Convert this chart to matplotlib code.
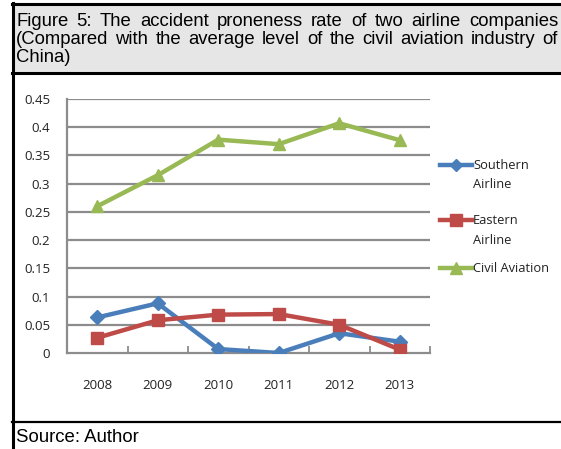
import matplotlib.pyplot as plt
from matplotlib.patches import Rectangle
from matplotlib.lines import Line2D

years = ["2008", "2009", "2010", "2011", "2012", "2013"]
southern = [0.063, 0.088, 0.007, 0.0, 0.035, 0.02]
eastern = [0.027, 0.058, 0.068, 0.069, 0.05, 0.006]
civil = [0.26, 0.315, 0.378, 0.37, 0.407, 0.377]
y_ticks = [0, 0.05, 0.1, 0.15, 0.2, 0.25, 0.3, 0.35, 0.4, 0.45]
y_labels = ["0", "0.05", "0.1", "0.15", "0.2", "0.25", "0.3", "0.35", "0.4", "0.45"]
series_names = ["Southern\nAirline", "Eastern\nAirline", "Civil Aviation"]
title_lines = ["Figure 5: The accident proneness rate of two airline companies",
               "(Compared with the average level of the civil aviation industry of",
               "China)"]

W, H = 561, 449
fig = plt.figure(figsize=(W / 100, H / 100), dpi=100)


def fx(px):
    return px / W


def fy(py):
    return 1 - py / H


chart_font = ["Open Sans", "DejaVu Sans"]

# header box + frame lines
fig.patches.append(Rectangle((fx(13), fy(73)), fx(W - 13), (73 - 3) / H,
                             transform=fig.transFigure, facecolor="#e6e6e6",
                             edgecolor="none", zorder=0))
black = dict(color="black", transform=fig.transFigure)
fig.add_artist(Line2D([fx(13), fx(13)], [fy(3), fy(449)], lw=2.2, **black))
fig.add_artist(Line2D([fx(12), 1], [fy(3.5), fy(3.5)], lw=2.2, **black))
fig.add_artist(Line2D([fx(12), 1], [fy(73), fy(73)], lw=2.2, **black))
fig.add_artist(Line2D([fx(12), 1], [fy(422), fy(422)], lw=1.6, **black))

# justified title: spread the words of the first two lines across the box
renderer = fig.canvas.get_renderer()
left, right = 16, 558
for i, (line, yy) in enumerate(zip(title_lines, [22, 39, 57])):
    words = line.split(" ")
    if i == len(title_lines) - 1:
        fig.text(fx(left), fy(yy), line, ha="left", va="center",
                 fontsize=13.3, family="Liberation Sans")
        continue
    objs = [fig.text(0, fy(yy), w, ha="left", va="center", fontsize=13.3,
                     family="Liberation Sans") for w in words]
    widths = [o.get_window_extent(renderer).width for o in objs]
    gap = (right - left - sum(widths)) / (len(words) - 1)
    pos = left
    for o, w in zip(objs, widths):
        o.set_x(fx(pos))
        pos += w + gap

fig.text(fx(16), fy(437), "Source: Author", ha="left", va="center",
         fontsize=13.4, family="Liberation Sans")

# chart
ax = fig.add_axes([fx(67), fy(353), fx(430 - 67), (353 - 99) / H])
x = list(range(len(years)))
grid_c = "#8c8c8c"
for t in y_ticks[1:]:
    ax.axhline(t, color=grid_c, lw=1.6, zorder=1)

colors = ["#4a7ebb", "#be4b48", "#98b954"]
markers = ["D", "s", "^"]
msizes = [7, 9, 9]
for vals, c, m, ms in zip([southern, eastern, civil], colors, markers, msizes):
    ax.plot(x, vals, color=c, lw=3.2, marker=m, ms=ms, zorder=3)

ax.set_xlim(-0.5, 5.5)
ax.set_ylim(0, 0.45)
ax.set_yticks(y_ticks)
ax.set_yticklabels(y_labels)
ax.set_xticks(x)
ax.set_xticklabels(years)
ax.set_xticks([i - 0.5 for i in range(7)], minor=True)
ax.tick_params(axis="x", which="major", length=0, pad=19, labelsize=9.5, labelcolor="#222222")
ax.tick_params(axis="x", which="minor", length=5, direction="in", color=grid_c, width=1.3)
ax.tick_params(axis="y", length=0, pad=12, labelsize=9.5, labelcolor="#222222")
for lab in ax.get_xticklabels() + ax.get_yticklabels():
    lab.set_family(chart_font)

for s in ["top", "right"]:
    ax.spines[s].set_visible(False)
for s in ["left", "bottom"]:
    ax.spines[s].set_color(grid_c)
    ax.spines[s].set_linewidth(1.6)

# legend, drawn by hand so the handle sits on the first text line
leg_y = [165, 220, 268]
for name, c, m, ms, yy in zip(series_names, colors, markers, msizes, leg_y):
    fig.add_artist(Line2D([fx(440), fx(472)], [fy(yy), fy(yy)], color=c, lw=3.2,
                          transform=fig.transFigure))
    fig.add_artist(Line2D([fx(456)], [fy(yy)], color=c, marker=m, ms=ms - 1,
                          transform=fig.transFigure))
    fig.text(fx(473), fy(yy - 6), name, ha="left", va="top", fontsize=9.3,
             family=chart_font, color="#222222", linespacing=1.65)

fig.savefig("out.png", dpi=100)
